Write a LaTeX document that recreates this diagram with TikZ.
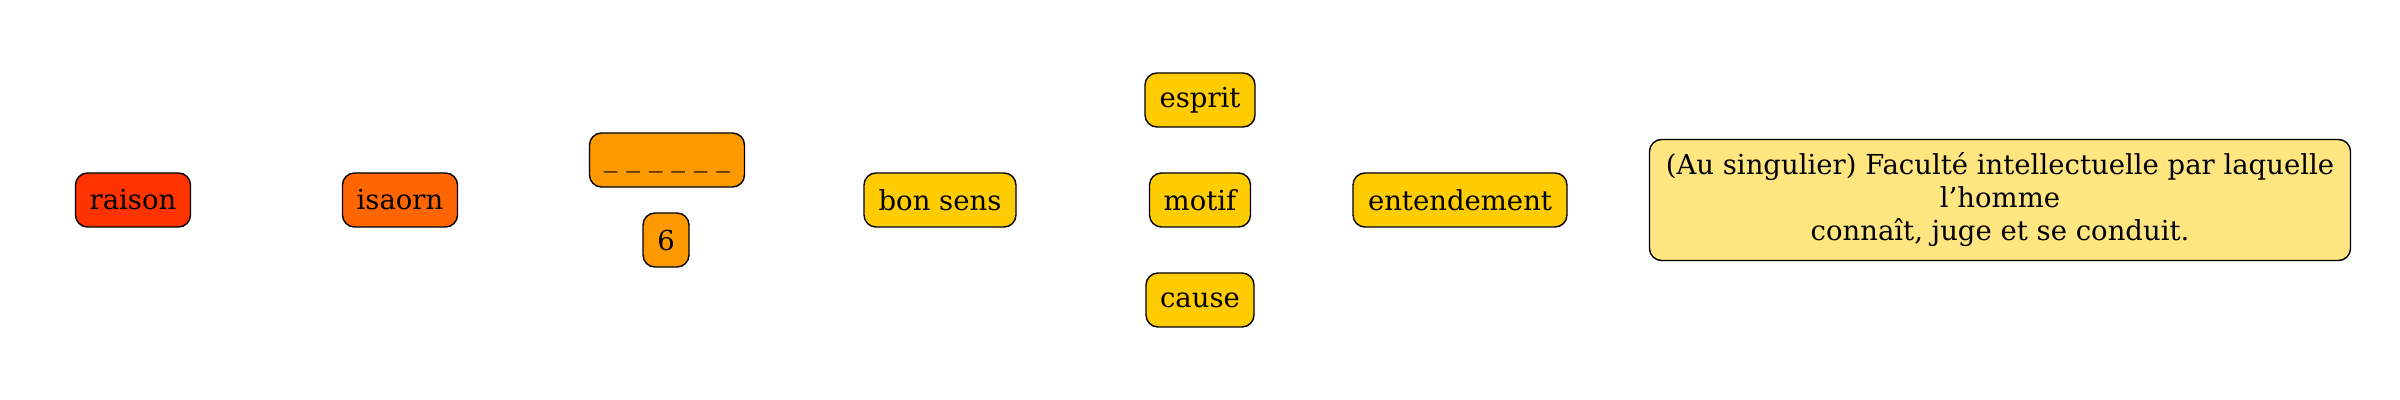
\documentclass[tikz,border=0pt]{standalone}
\usepackage{fontspec}
\setmainfont{DejaVu Serif}
\definecolor{cA}{RGB}{255,51,0}
\definecolor{cB}{RGB}{255,102,0}
\definecolor{cC}{RGB}{255,153,0}
\definecolor{cD}{RGB}{255,204,0}
\definecolor{cE}{RGB}{255,230,128}
\begin{document}
\begin{tikzpicture}[x=0.5pt,y=-0.5pt]
\useasboundingbox (0,0) rectangle (2400,400);
\tikzset{box/.style={draw=black, line width=0.7pt, rounded corners=6pt, inner sep=0pt,
  minimum height=27pt, font=\fontsize{13.75}{16.5}\selectfont, align=center}}
\node[box, fill=cA, minimum width=57.5pt] (raison) at (133,200) {raison};
\node[box, fill=cB, minimum width=57.5pt] (isaorn) at (400,200) {isaorn};
\node[box, fill=cC, minimum width=77.5pt] (blank) at (667,160) {\vphantom{Ag}\_ \_ \_ \_ \_ \_};
\node[box, fill=cC, minimum width=23pt] (six) at (666,240) {6};
\node[box, fill=cD, minimum width=76pt] (bonsens) at (940,200) {bon sens};
\node[box, fill=cD, minimum width=55pt] (esprit) at (1200,100) {esprit};
\node[box, fill=cD, minimum width=50.5pt] (motif) at (1200,200) {motif};
\node[box, fill=cD, minimum width=54pt] (cause) at (1200,300) {cause};
\node[box, fill=cD, minimum width=107pt] (entend) at (1460,200) {entendement};
\node[box, fill=cE, minimum width=350.5pt, minimum height=60.5pt] (def) at (2000,200)
  {(Au singulier) Faculté intellectuelle par laquelle\\ l’homme\\ connaît, juge et se conduit.};
\end{tikzpicture}
\end{document}
